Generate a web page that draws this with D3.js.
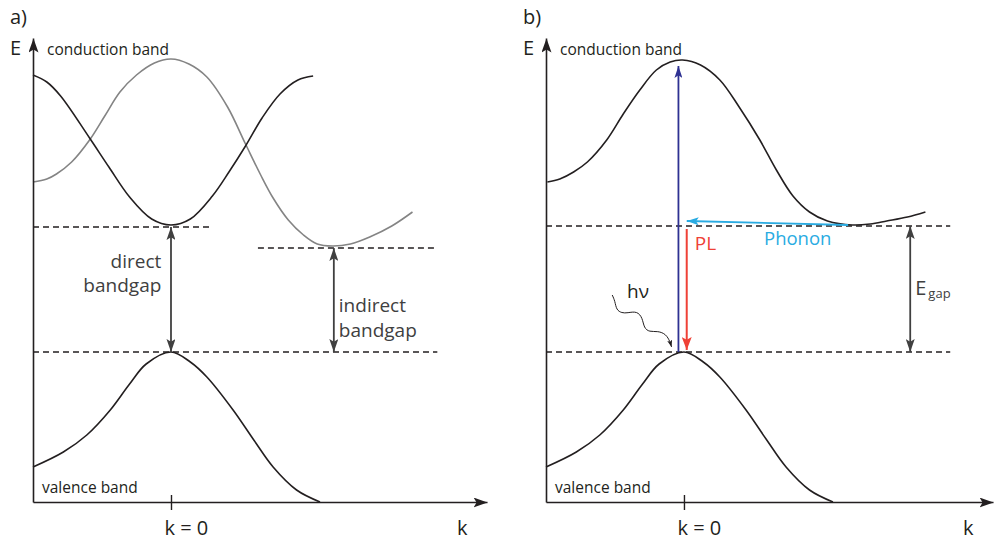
<!DOCTYPE html>
<html>
<head>
<meta charset="utf-8">
<script src="https://cdn.jsdelivr.net/npm/d3@7"></script>
<style>
  body { margin: 0; background: #fff; }
  text { font-family: "Open Sans", "Noto Sans", sans-serif; fill: #231f20; }
</style>
</head>
<body>
<svg id="chart" width="996" height="540"></svg>
<script>
// ---- band data: [k, E] pairs (k in units of the zone half-width, E in arbitrary energy units)
const conductionDirect = [
  [-1.00, 4.27], [-0.90, 4.20], [-0.80, 4.06], [-0.59, 3.64], [-0.45, 3.35], [-0.30, 3.05],
  [-0.14, 2.83], [0.00, 2.77], [0.14, 2.83], [0.30, 3.06], [0.42, 3.30], [0.54, 3.56],
  [0.66, 3.84], [0.79, 4.08], [0.92, 4.22], [1.03, 4.26]
];
const conductionIndirectA = [
  [-1.00, 3.20], [-0.90, 3.23], [-0.83, 3.28], [-0.72, 3.40], [-0.59, 3.62], [-0.48, 3.86],
  [-0.37, 4.10], [-0.25, 4.27], [-0.12, 4.39], [0.00, 4.43], [0.13, 4.38], [0.26, 4.25],
  [0.41, 3.95], [0.54, 3.58], [0.65, 3.27], [0.74, 3.04], [0.85, 2.82], [0.96, 2.67],
  [1.06, 2.58], [1.17, 2.56], [1.30, 2.58], [1.44, 2.65], [1.60, 2.76], [1.75, 2.90]
];
const conductionIndirectB = [
  [-0.99, 3.20], [-0.90, 3.23], [-0.80, 3.30], [-0.70, 3.40], [-0.56, 3.62], [-0.44, 3.88],
  [-0.32, 4.12], [-0.20, 4.32], [-0.10, 4.40], [-0.01, 4.42], [0.12, 4.37], [0.26, 4.22],
  [0.40, 3.95], [0.55, 3.62], [0.67, 3.32], [0.79, 3.06], [0.91, 2.90], [1.04, 2.81],
  [1.22, 2.77], [1.35, 2.78], [1.47, 2.81], [1.62, 2.85], [1.75, 2.90]
];
const valenceBand = [
  [-1.00, 0.35], [-0.78, 0.50], [-0.61, 0.67], [-0.44, 0.92], [-0.30, 1.18], [-0.18, 1.38],
  [0.00, 1.50], [0.14, 1.40], [0.26, 1.25], [0.45, 0.92], [0.60, 0.62], [0.74, 0.35],
  [0.91, 0.12], [1.08, 0.00]
];

// band edges and gaps
const gapA = { vbm: 1.50, cbmDirect: 2.75, cbmIndirect: 2.54, kIndirect: 1.18 };
const gapB = { vbm: 1.50, cbm: 2.76, kEgap: 1.64 };

// dashed reference levels: [E, kStart, kEnd]
const levelsA = [[2.75, -1, 0.30], [2.54, 0.63, 1.93], [1.50, -1, 1.93]];
const levelsB = [[2.76, -1, 1.93], [1.50, -1, 1.93]];

// transitions in panel b: [[k0,E0],[k1,E1]]
const absorption = [[-0.04, 1.50], [-0.04, 4.36]];
const emission = [[0.02, 2.73], [0.02, 1.52]];
const phonon = [[1.19, 2.77], [0.02, 2.81]];
const photonPath = [
  [-0.52, 2.07], [-0.50, 2.01], [-0.49, 1.92], [-0.45, 1.89], [-0.41, 1.89],
  [-0.34, 1.91], [-0.30, 1.84], [-0.29, 1.74], [-0.25, 1.70], [-0.19, 1.71],
  [-0.13, 1.68], [-0.10, 1.60], [-0.09, 1.55]
];

const tickValues = [0];
const tickLabels = ["k = 0"];

// ---- setup
const svg = d3.select("#chart");
const y = d3.scaleLinear().domain([0, 4.64]).range([502, 38]);
const xA = d3.scaleLinear().domain([-1, 2.29]).range([33, 487]);
const xB = d3.scaleLinear().domain([-1, 2.24]).range([546, 993]);

const INK = "#231f20", GAPC = "#404040";

// arrowhead markers
const defs = svg.append("defs");
function marker(id, color, len, wid) {
  defs.append("marker")
    .attr("id", id)
    .attr("markerUnits", "userSpaceOnUse")
    .attr("viewBox", `0 ${-wid / 2} ${len} ${wid}`)
    .attr("markerWidth", len).attr("markerHeight", wid)
    .attr("refX", len).attr("refY", 0)
    .attr("orient", "auto-start-reverse")
    .append("path")
    .attr("d", `M0,${-wid / 2}L${len},0L0,${wid / 2}L${len * 0.22},0Z`)
    .attr("fill", color);
}
marker("ax", INK, 14, 10);
marker("gap", GAPC, 13, 9);
marker("blue", "#2e3192", 12, 8);
marker("red", "#ef4136", 13, 10);
marker("cyan", "#29abe2", 12, 8);
marker("small", INK, 7, 5);

function drawPanel(x, opts) {
  const g = svg.append("g");
  const line = d3.line().x(d => x(d[0])).y(d => y(d[1])).curve(d3.curveCatmullRom.alpha(0.5));

  // dashed levels
  g.selectAll(".lvl").data(opts.levels).join("line")
    .attr("x1", d => x(d[1])).attr("x2", d => x(d[2]))
    .attr("y1", d => y(d[0])).attr("y2", d => y(d[0]))
    .attr("stroke", INK).attr("stroke-width", 1.3).attr("stroke-dasharray", "6,4");

  // bands
  opts.bands.forEach(b => {
    g.append("path").datum(b.data).attr("d", line)
      .attr("fill", "none").attr("stroke", b.color).attr("stroke-width", 1.6);
  });

  // axes
  const xAxis = d3.axisBottom(x).tickValues(tickValues)
    .tickFormat((d, i) => tickLabels[i]).tickSize(8).tickSizeOuter(0);
  const gx = g.append("g").attr("transform", `translate(0,${y(0)})`).call(xAxis);
  gx.select(".domain").attr("stroke", INK).attr("stroke-width", 1.6).attr("marker-end", "url(#ax)");
  gx.selectAll(".tick line").attr("stroke", INK).attr("stroke-width", 1.4).attr("y1", -7);
  gx.selectAll(".tick text").attr("y", 33).attr("dy", null).attr("x", -7)
    .attr("text-anchor", "start").style("font-size", "20px").attr("fill", INK);

  const yAxis = d3.axisLeft(y).tickValues([]).tickSizeOuter(0);
  const gy = g.append("g").attr("transform", `translate(${x(-1)},0)`).call(yAxis);
  gy.select(".domain").attr("stroke", INK).attr("stroke-width", 1.6).attr("marker-end", "url(#ax)");

  const x0 = x(-1);
  g.append("text").attr("x", x0 - 23).attr("y", 24).style("font-size", "20px").text(opts.tag);
  g.append("text").attr("x", x0 - 23).attr("y", 55).style("font-size", "20px").text("E");
  g.append("text").attr("x", x0 + 14).attr("y", 55).style("font-size", "15.5px").text("conduction band");
  g.append("text").attr("x", x0 + 9).attr("y", 493).style("font-size", "15.5px").text("valence band");
  g.append("text").attr("x", x.range()[1] - 30).attr("y", 535).style("font-size", "20px").text("k");
  return g;
}

function arrow(g, x, pts, color, mk, width, both) {
  const p = g.append("line")
    .attr("x1", x(pts[0][0])).attr("y1", y(pts[0][1]))
    .attr("x2", x(pts[1][0])).attr("y2", y(pts[1][1]))
    .attr("stroke", color).attr("stroke-width", width)
    .attr("marker-end", `url(#${mk})`);
  if (both) p.attr("marker-start", `url(#${mk})`);
  return p;
}

// ---- panel a: direct vs indirect
const gA = drawPanel(xA, {
  tag: "a)",
  levels: levelsA,
  bands: [
    { data: conductionIndirectA, color: "#848484" },
    { data: conductionDirect, color: INK },
    { data: valenceBand, color: INK }
  ]
});
arrow(gA, xA, [[0, gapA.cbmDirect], [0, gapA.vbm]], GAPC, "gap", 1.8, true);
arrow(gA, xA, [[gapA.kIndirect, gapA.cbmIndirect], [gapA.kIndirect, gapA.vbm]], GAPC, "gap", 1.8, true);
gA.append("text").attr("x", xA(-0.07)).attr("y", 268).attr("text-anchor", "end")
  .style("font-size", "19px").style("fill", GAPC).text("direct");
gA.append("text").attr("x", xA(-0.07)).attr("y", 292).attr("text-anchor", "end")
  .style("font-size", "19px").style("fill", GAPC).text("bandgap");
gA.append("text").attr("x", xA(gapA.kIndirect) + 5).attr("y", 312)
  .style("font-size", "19px").style("fill", GAPC).text("indirect");
gA.append("text").attr("x", xA(gapA.kIndirect) + 5).attr("y", 337)
  .style("font-size", "19px").style("fill", GAPC).text("bandgap");

// ---- panel b: indirect semiconductor, absorption / phonon / PL
const gB = drawPanel(xB, {
  tag: "b)",
  levels: levelsB,
  bands: [
    { data: conductionIndirectB, color: INK },
    { data: valenceBand, color: INK }
  ]
});
arrow(gB, xB, absorption, "#2e3192", "blue", 1.8, false);
arrow(gB, xB, emission, "#ef4136", "red", 2, false);
arrow(gB, xB, phonon, "#29abe2", "cyan", 1.8, false);
arrow(gB, xB, [[gapB.kEgap, gapB.cbm], [gapB.kEgap, gapB.vbm]], GAPC, "gap", 1.8, true);

gB.append("path").datum(photonPath)
  .attr("d", d3.line().x(d => xB(d[0])).y(d => y(d[1])).curve(d3.curveBasis))
  .attr("fill", "none").attr("stroke", INK).attr("stroke-width", 1)
  .attr("marker-end", "url(#small)");

gB.append("text").attr("x", xB(emission[0][0]) + 8).attr("y", 250)
  .style("font-size", "19px").style("fill", "#ef4136").text("PL");
gB.append("text").attr("x", 764).attr("y", 245)
  .style("font-size", "18.5px").style("fill", "#29abe2").text("Phonon");
gB.append("text").attr("x", 627).attr("y", 298).style("font-size", "19px").text("hν");
const eg = gB.append("text").attr("x", xB(gapB.kEgap) + 5).attr("y", 295)
  .style("font-size", "20px").style("fill", GAPC);
eg.append("tspan").text("E");
eg.append("tspan").attr("dx", 2).attr("dy", 3).style("font-size", "13px").text("gap");
</script>
</body>
</html>
